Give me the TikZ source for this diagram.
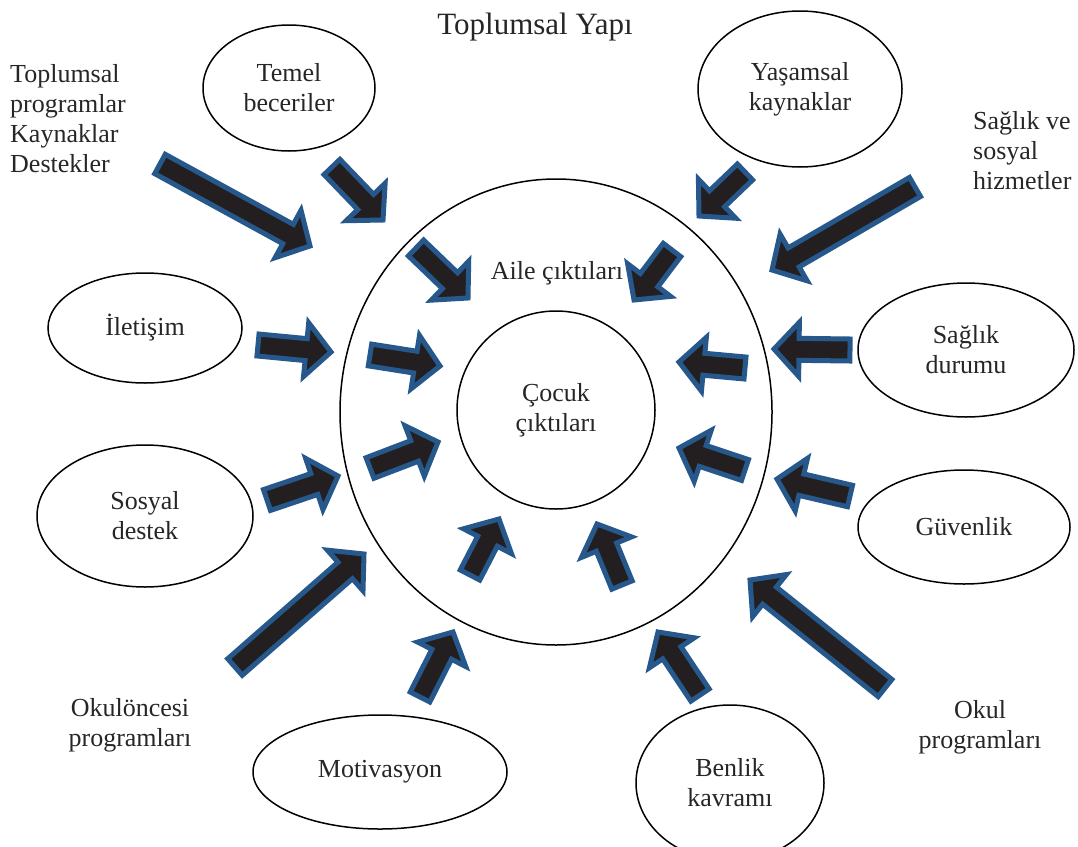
\documentclass[tikz,border=0pt]{standalone}
\usepackage{fontspec}
\setmainfont{Liberation Serif}
\usetikzlibrary{calc,shapes.geometric}

\definecolor{arrowblue}{RGB}{38,88,140}
\definecolor{arrowfill}{RGB}{35,31,32}

% block arrow from tail coordinate #1 to tip coordinate #2
\newcommand\blockarrow[2]{%
  \coordinate (neck) at ($(#2)!25pt!(#1)$);
  \draw[blockarr]
    ($(#1)!11pt!90:(#2)$) -- ($(neck)!11pt!-90:(#1)$) -- ($(neck)!27pt!-90:(#1)$)
    -- (#2)
    -- ($(neck)!27pt!90:(#1)$) -- ($(neck)!11pt!90:(#1)$) -- ($(#1)!11pt!-90:(#2)$) -- cycle;}

\tikzset{
  lbl/.style={font=\fontsize{26}{30}\selectfont, text=black!85, inner sep=0pt},
  bubble/.style={lbl, draw=black, line width=1.5pt, ellipse, align=center},
  blockarr/.style={fill=arrowfill, draw=arrowblue, line width=5pt, line join=miter},
}

\begin{document}
\begin{tikzpicture}[x=1pt,y=-1pt]
\useasboundingbox (0,0) rectangle (1078,846);

% nested rings
\node[bubble, minimum width=432pt, minimum height=466pt] (aile) at (556,412) {};
\node[bubble, circle, minimum size=198pt] (cocuk) at (556,410) {Çocuk\\çıktıları};
\node[lbl] (ailetxt) at (557,273) {Aile çıktıları};
\node[lbl, font=\fontsize{31}{36}\selectfont] (title) at (535,27) {Toplumsal Yapı};

% surrounding factors
\node[bubble, minimum width=172pt, minimum height=126pt] (temel) at (289,88) {Temel\\beceriler};
\node[bubble, minimum width=204pt, minimum height=156pt] (yasam) at (800,89) {Yaşamsal\\kaynaklar};
\node[bubble, minimum width=194pt, minimum height=110pt] (iletisim) at (145,328) {İletişim};
\node[bubble, minimum width=216pt, minimum height=134pt] (saglik) at (966,350) {Sağlık\\durumu};
\node[bubble, minimum width=216pt, minimum height=142pt] (sosyal) at (145,516) {Sosyal\\destek};
\node[bubble, minimum width=212pt, minimum height=114pt] (guven) at (964,527) {Güvenlik};
\node[bubble, minimum width=254pt, minimum height=114pt] (motiv) at (380,772) {Motivasyon};
\node[bubble, minimum width=188pt, minimum height=156pt] (benlik) at (730,783) {Benlik\\kavramı};

% free labels
\node[lbl, anchor=west, align=left] (topl) at (10,119) {Toplumsal\\programlar\\Kaynaklar\\Destekler};
\node[lbl, anchor=west, align=left] (hizm) at (973,151) {Sağlık ve\\sosyal\\hizmetler};
\node[lbl, align=center] (okulon) at (130,725) {Okulöncesi\\programları};
\node[lbl, align=center] (okul) at (980,727) {Okul\\programları};

% outer arrows: tail / tip
\coordinate (a1t) at (160,164);  \coordinate (a1h) at (310,246);
\coordinate (a2t) at (332,167);  \coordinate (a2h) at (383,220);
\coordinate (a3t) at (745,172);  \coordinate (a3h) at (699,216);
\coordinate (a4t) at (915,187);  \coordinate (a4h) at (772,270);
\coordinate (a5t) at (258,345);  \coordinate (a5h) at (331,352);
\coordinate (a6t) at (850,350);  \coordinate (a6h) at (774,349);
\coordinate (a7t) at (267,500);  \coordinate (a7h) at (338,476);
\coordinate (a8t) at (850,496);  \coordinate (a8h) at (777,479);
\coordinate (a9t) at (235,667);  \coordinate (a9h) at (364,554);
\coordinate (a10t) at (420,697); \coordinate (a10h) at (453,632);
\coordinate (a11t) at (700,695); \coordinate (a11h) at (658,632);
\coordinate (a12t) at (885,688); \coordinate (a12h) at (750,580);

% inner arrows: tail / tip
\coordinate (b1t) at (416,248);  \coordinate (b1h) at (468,298);
\coordinate (b2t) at (672,250);  \coordinate (b2h) at (634,300);
\coordinate (b3t) at (370,355);  \coordinate (b3h) at (440,366);
\coordinate (b4t) at (370,468);  \coordinate (b4h) at (438,442);
\coordinate (b5t) at (745,368);  \coordinate (b5h) at (679,362);
\coordinate (b6t) at (745,470);  \coordinate (b6h) at (679,448);
\coordinate (b7t) at (470,575);  \coordinate (b7h) at (499,519);
\coordinate (b8t) at (622,585);  \coordinate (b8h) at (597,524);

\foreach \n in {a1,a2,a3,a4,a5,a6,a7,a8,a9,a10,a11,a12,b1,b2,b3,b4,b5,b6,b7,b8}
  {\blockarrow{\n t}{\n h}}
\end{tikzpicture}
\end{document}
